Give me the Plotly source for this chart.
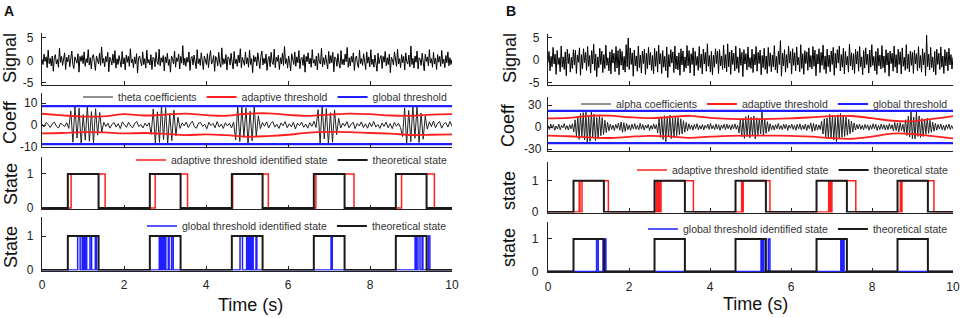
import numpy as np
import plotly.graph_objects as go

W, H = 964, 318
def px(x): return x / W
def py(y): return 1 - y / H

# ---------------- data ----------------
sig_A = [
 0.3,-0.9,1.4,-0.2,0.8,-1.6,2.3,-0.7,0.5,-1.2,1.0,-2.4,0.6,1.3,-0.8,0.2,-1.5,2.7,-0.4,0.9,
 -1.1,0.4,1.7,-2.0,0.7,-0.3,1.2,-1.4,0.5,2.1,-0.9,-1.8,0.8,0.3,-0.6,1.5,-2.6,0.9,-0.2,1.1,
 -0.7,1.9,-1.3,0.4,-0.5,2.4,-1.0,0.6,-1.9,0.8,1.3,-0.4,-2.2,1.0,0.2,-0.8,1.6,-1.1,3.0,-0.6,
 0.5,-1.4,0.9,-0.3,1.8,-2.5,0.7,0.1,-1.0,1.4,-0.6,2.2,-1.7,0.4,-0.9,1.1,-0.2,-1.5,2.0,-0.8,
 0.6,-2.1,1.2,-0.4,0.9,-1.3,2.6,-0.5,0.3,-1.6,0.8,-0.7,1.5,-2.8,0.6,1.0,-0.3,-1.2,1.9,-0.9,
 0.4,-1.7,2.3,-0.6,0.2,-1.0,1.3,-2.0,0.7,0.5,-1.4,1.8,-0.3,-0.9,2.5,-1.2,0.6,-0.4,1.1,-2.3,
 0.8,-0.5,1.6,-1.1,0.3,-2.6,1.0,0.4,-0.8,2.1,-1.5,0.6,-0.2,1.4,-1.9,0.9,-0.6,3.3,-1.0,0.5,
 -1.3,0.7,-0.4,1.9,-2.2,0.5,0.9,-1.0,1.2,-0.3,-1.8,2.4,-0.7,0.4,-1.1,1.7,-0.5,-2.0,1.0,0.2,
 -0.9,1.5,-1.6,0.6,2.2,-0.8,-0.3,1.1,-2.4,0.9,0.3,-1.2,1.8,-0.6,-1.5,2.8,-0.9,0.4,-0.7,1.3,
 -2.1,0.8,0.5,-1.0,1.6,-0.4,-1.9,2.0,-0.7,0.3,-1.3,1.2,-0.5,2.6,-1.6,0.7,-0.2,-1.1,1.9,-0.8,
 0.6,-1.5,2.3,-0.9,0.4,-2.7,1.1,-0.3,0.8,-1.2,1.7,-0.6,-1.8,0.9,2.1,-1.0,0.5,-0.7,1.4,-2.2,
 0.3,0.9,-1.4,1.8,-0.5,-0.9,2.5,-1.6,0.7,-0.2,1.2,-2.0,0.6,-0.8,1.6,-1.1,3.1,-0.7,0.4,-1.7,
 1.0,-0.4,-2.3,1.5,0.2,-0.9,1.9,-1.3,0.8,-0.5,2.2,-1.8,0.4,0.7,-1.1,1.3,-2.6,0.9,-0.3,1.7,
 -0.8,0.5,-1.5,2.4,-0.6,0.2,-1.2,1.0,-2.1,1.6,-0.4,-0.8,2.7,-1.4,0.6,-0.9,1.2,-0.2,-1.9,2.0,
 -0.7,1.1,-0.5,1.8,-2.5,0.8,0.4,-1.3,1.5,-0.6,-1.7,2.2,-0.9,0.3,-1.0,1.4,-0.3,2.9,-1.5,0.6,
 -1.2,0.9,-0.4,1.7,-2.2,0.5,1.0,-0.8,-1.6,2.3,-0.7,0.4,-1.1,1.5,-0.5,-2.0,1.9,-0.6,0.8,-1.4,
 2.4,-0.9,0.3,-1.5,1.2,-0.3,-2.4,1.6,-0.7,0.5,1.1,-1.8,0.9,-0.4,2.0,-1.2,0.6,-0.9,1.4,-2.7,
 0.7,0.2,-1.0,1.9,-0.6,-1.3,2.5,-0.8,0.4,-1.6,1.3,-0.5,0.9,-2.1,1.7,-0.3,-0.8,1.2,-1.4,3.2,
 -0.9,0.5,-1.7,1.0,-0.4,2.1,-1.9,0.6,0.3,-1.1,1.6,-0.7,-2.3,1.4,-0.2,0.8,-1.2,2.4,-0.6,0.4,
 -1.5,1.8,-0.8,0.5,-2.0,1.3,-0.4,0.9,-1.3,2.2,-0.7,0.3,-1.6,1.1,-0.5,1.9,-1.2,0.6,-0.9,0.2]

sig_B = [
 -0.6,1.9,-2.4,0.8,-1.5,2.8,-0.9,1.3,-3.2,2.1,-1.0,0.5,-2.6,3.1,-1.6,0.7,-2.1,1.8,-3.5,2.4,
 -0.8,1.4,-2.7,0.6,-1.9,2.3,-1.1,2.2,-3.0,1.1,-0.5,2.7,-3.4,1.2,-2.0,2.5,-0.6,1.7,-2.3,3.0,
 -1.4,1.0,-2.9,2.1,-0.9,3.5,-2.3,1.3,-3.7,0.7,-1.7,2.6,-1.0,2.0,-2.8,1.2,-1.9,3.3,-1.2,0.5,
 -2.4,1.8,-3.1,2.3,-0.7,1.5,-2.6,3.0,-1.8,2.1,-3.3,2.5,-1.2,1.9,-2.2,0.8,-2.7,3.4,-1.5,4.9,
 -2.1,2.7,-1.0,1.6,-3.6,2.2,-1.3,0.9,-2.5,3.1,-1.7,1.1,-2.9,2.0,-0.8,2.4,-3.2,1.5,-1.9,2.8,
 -1.1,1.7,-2.3,1.0,-3.1,2.6,-1.4,1.9,-2.7,3.3,-0.9,1.4,-3.0,2.1,-1.6,0.8,-2.4,2.9,-3.9,1.2,
 -1.5,2.3,-0.7,1.8,-2.8,3.1,-2.0,0.9,-2.2,1.6,-3.4,2.5,-1.1,2.0,-2.6,0.7,-1.8,3.2,-1.3,2.1,
 -2.9,1.4,-1.0,2.7,-3.5,1.9,-1.2,0.8,-2.3,3.0,-1.7,1.3,-3.1,2.4,-0.9,1.7,-2.5,3.6,-1.4,1.0,
 -2.7,1.9,-3.3,1.1,-1.6,2.5,-0.8,2.0,-3.0,2.3,-1.3,0.9,-2.1,3.3,-1.8,1.2,-2.6,3.6,-1.5,1.8,
 -3.2,2.2,-1.0,1.5,-2.4,3.1,-1.9,0.7,-2.8,2.6,-1.2,1.7,-3.7,2.3,-0.9,1.4,-2.2,2.9,-1.6,0.5,
 -1.9,2.4,-2.8,1.3,-1.1,3.0,-2.5,1.7,-0.8,2.2,-3.3,1.0,-1.7,2.6,-2.1,0.9,-3.0,2.8,-1.4,1.6,
 -2.6,1.1,-1.5,3.2,-2.2,0.8,-2.9,2.0,-1.0,4.3,-3.6,1.5,-1.3,2.3,-2.7,1.2,-1.8,3.1,-0.7,1.9,
 -3.1,2.5,-1.2,1.6,-2.4,2.9,-1.1,0.6,-2.6,3.4,-1.9,1.4,-3.2,2.1,-0.8,1.8,-2.3,2.7,-1.6,1.0,
 -2.0,3.0,-1.4,2.2,-3.5,1.3,-0.9,2.5,-2.8,1.7,-1.2,3.3,-2.1,0.9,-3.0,2.4,-1.5,1.1,-2.6,2.0,
 -1.0,2.8,-3.4,1.5,-1.8,2.3,-0.7,3.1,-2.4,1.2,-1.6,2.6,-3.1,1.9,-1.1,0.8,-2.7,3.5,-1.3,1.6,
 -2.2,1.4,-3.0,2.4,-0.9,1.9,-2.5,3.0,-1.5,0.7,-3.3,2.1,-1.8,2.7,-1.0,1.3,-2.9,2.2,-1.6,3.4,
 -1.2,0.8,-2.4,1.9,-3.2,2.6,-1.3,1.1,-2.0,3.2,-1.7,0.9,-2.8,2.3,-1.1,1.6,-3.6,2.0,-0.8,1.5,
 -2.5,3.1,-1.6,1.2,-2.9,2.4,-1.0,1.8,-3.1,2.7,-1.4,0.6,-2.3,3.4,-1.9,1.3,-2.6,2.0,-1.2,1.7,
 -3.0,2.2,-0.9,1.4,-2.4,3.0,-1.8,1.0,-2.7,2.5,-1.1,1.6,-3.5,5.5,-1.5,1.3,-2.2,2.8,-1.7,0.7,
 -2.6,1.9,-3.3,2.4,-1.0,1.5,-2.1,2.9,-1.6,0.9,-3.0,2.3,-1.3,1.8,-2.4,2.6,-1.1,1.2,-2.0,0.6]

coef_A = [
 0.5,-0.8,1.2,0.3,-1.1,0.6,1.4,-0.5,-1.3,0.9,0.2,-0.7,1.1,-1.5,
 6.5,-7.8,8.4,-5.9,7.7,-8.6,4.8,-6.9,8.9,-7.4,6.2,-8.1,7.5,-4.6,5.8,-3.2,
 1.3,-0.6,0.9,-1.4,0.4,1.2,-0.9,0.7,-1.6,1.5,0.2,-1.0,1.3,-0.4,-1.2,0.8,1.6,-0.7,0.3,-1.3,0.9,-0.5,1.1,
 -4.2,7.4,-8.3,6.1,-7.9,8.8,-6.6,8.0,-8.7,5.4,-7.1,6.8,-4.9,3.6,
 -1.5,1.0,-0.3,1.4,-1.1,0.6,1.8,-0.8,-1.4,0.9,1.2,-0.6,0.4,-1.7,1.3,-0.2,0.8,-1.2,1.6,-0.9,0.5,-1.5,1.1,-0.4,0.9,-1.3,1.4,
 -6.8,8.9,-7.5,8.2,-5.6,7.9,-8.8,6.4,-7.2,8.5,-5.1,4.3,
 -1.6,1.2,-0.5,1.5,-1.3,0.7,1.7,-0.9,0.4,-1.5,1.0,-0.3,1.6,-1.2,0.6,-0.8,1.3,-1.7,0.9,-0.2,1.4,-1.0,0.5,-1.4,1.1,-0.6,1.8,-1.1,
 7.1,-8.4,8.9,-6.3,7.6,-8.9,5.7,-7.8,6.9,-4.4,3.1,
 -1.3,0.9,-0.5,1.6,-1.2,0.4,1.3,-1.6,0.8,-0.4,1.5,-1.1,0.6,-1.4,1.2,-0.7,1.7,-0.9,0.3,-1.5,1.0,-0.6,1.4,-1.2,0.7,-1.6,1.3,-0.5,0.9,-1.1,
 -5.2,7.9,-8.5,6.7,-7.6,8.8,-6.0,8.3,-7.9,5.5,-6.4,4.1,
 -1.8,1.5,-0.7,1.9,-1.2,0.8,1.6,-1.4,0.5,1.2,-0.9,1.7,-0.6]

coef_B = [
 2.3,-3.6,4.1,-1.7,3.2,-4.4,1.4,-2.8,3.9,-3.8,2.2,-1.1,4.6,-3.2,1.9,-4.0,3.1,-2.5,4.4,
 -6.5,9.8,-12.4,14.1,-16.8,18.2,-13.5,19.6,-17.7,21.0,-22.3,15.6,-19.4,20.8,-14.9,17.3,-18.9,13.2,-16.1,15.4,-11.8,12.9,-10.2,9.1,-7.6,6.4,-5.2,
 4.1,-3.3,2.6,-4.9,3.5,-2.0,5.2,-4.4,6.8,-7.3,5.9,-6.1,4.8,-3.7,2.9,-4.5,3.8,-2.4,4.7,-3.1,2.2,-3.9,5.0,-2.8,3.4,-4.2,2.5,-1.6,3.6,-4.8,2.1,-3.0,4.3,-2.6,3.2,
 -7.9,11.4,-14.2,12.8,-16.9,15.3,-19.8,14.6,-13.1,16.2,-15.7,12.3,-14.5,13.8,-11.6,12.9,-10.4,11.2,-9.3,8.6,-7.1,6.2,-5.5,
 4.4,-3.1,2.7,-4.3,3.4,-2.2,4.6,-3.8,2.0,-2.9,3.5,-4.1,2.4,-1.7,3.8,-3.3,4.9,-2.6,2.1,-3.6,4.2,-2.8,3.1,-4.5,2.6,-2.0,3.7,-3.5,4.0,-2.3,2.8,-3.9,3.3,-2.5,4.3,-3.0,2.2,
 -8.2,10.7,-13.4,12.1,-15.6,14.2,-12.8,16.0,-14.7,13.3,-11.9,15.1,-16.3,12.6,-10.5,11.8,-9.4,20.4,-12.1,10.2,-8.7,7.3,-6.0,
 4.5,-3.6,2.4,-4.1,3.2,-2.5,4.8,-3.0,1.9,-3.7,4.0,-2.2,3.5,-4.6,2.7,-1.8,3.9,-3.3,2.2,-4.4,3.6,-2.7,4.3,-3.9,2.5,-3.1,4.1,-4.8,3.0,-2.4,5.6,-6.2,4.9,-5.1,3.6,-4.2,2.8,-3.4,
 7.8,-9.6,11.3,-13.7,12.4,-15.8,17.2,-14.1,15.8,-17.6,13.3,-19.8,16.7,-15.5,18.4,-14.0,16.1,-12.9,13.6,-11.2,10.4,-9.2,8.1,-6.9,5.6,
 -4.2,3.4,-2.8,4.0,-3.3,2.3,-3.9,3.6,-2.1,3.0,-4.4,2.6,-3.1,4.3,-2.4,3.7,-4.6,2.2,-3.5,4.1,-2.9,3.3,-4.0,2.8,-3.7,4.5,-2.6,3.2,-5.3,6.1,-4.8,5.4,-6.6,5.9,-4.7,3.8,
 -7.4,9.9,-11.6,14.8,-13.5,21.3,-15.9,13.7,-16.2,20.5,-12.8,15.1,-14.3,11.5,-13.0,10.6,-9.8,11.9,-8.6,9.1,-7.2,6.5,-5.8,4.9,
 -4.3,3.5,-2.7,4.2,-3.8,2.4,-4.6,3.1,-2.2,3.9,-3.4,2.0,-2.6]

thr_t = [0,0.5,1,1.5,2,2.5,3,3.5,4,4.5,5,5.5,6,6.5,7,7.5,8,8.5,9,9.5,10]
adapt_up_A = [5.2,4.5,3.9,4.0,5.0,4.4,4.8,5.3,4.6,4.3,5.2,5.4,4.7,4.2,4.8,5.3,5.0,4.4,4.3,4.8,5.0]
adapt_lo_A = [-3.8,-3.6,-3.2,-3.3,-3.8,-3.6,-4.0,-4.6,-4.2,-4.6,-5.3,-5.0,-4.4,-3.4,-3.1,-3.2,-3.6,-3.9,-4.5,-4.4,-4.2]
adapt_up_B = [11.8,12.5,15.3,15.5,13.3,12.0,13.5,15.3,12.5,11.2,10.8,11.0,11.8,13.2,14.8,15.0,12.0,8.5,7.8,11.0,14.8]
adapt_lo_B = [-11.8,-12.6,-14.0,-15.0,-13.4,-12.0,-12.8,-14.8,-13.2,-12.0,-11.8,-11.8,-12.0,-13.2,-15.0,-16.0,-13.0,-9.0,-9.5,-12.5,-15.5]
global_t = [0, 10]
global_A = 8.7
global_B = 22.0

theory_on  = [0.63, 2.63, 4.63, 6.63, 8.63]
theory_off = [1.38, 3.38, 5.38, 7.38, 9.38]
adaptA_on  = [0.71, 2.76, 4.65, 6.68, 8.77]
adaptA_off = [1.54, 3.55, 5.52, 7.61, 9.57]
globA_on  = [0.87,0.98,1.02,1.06,1.17,1.30, 2.86,2.90,2.95,2.99,3.08,3.16,
             4.83,4.99,5.03,5.08,5.12,5.22, 7.05, 9.10,9.17,9.27,9.42]
globA_off = [0.93,1.00,1.04,1.09,1.21,1.33, 2.88,2.93,2.97,3.02,3.10,3.20,
             4.89,5.01,5.06,5.10,5.15,5.24, 7.08, 9.13,9.22,9.29,9.46]
adaptB_on  = [0.77,0.84, 2.67,2.71,2.75,2.79, 4.78,4.82, 6.93,6.97,7.01, 8.70,8.74]
adaptB_off = [0.79,1.49, 2.69,2.73,2.77,3.59, 4.80,5.48, 6.95,6.99,7.60, 8.72,9.53]
globB_on  = [1.20,1.36,1.40, 5.26,5.30,5.44, 7.23,7.28]
globB_off = [1.24,1.38,1.43, 5.28,5.33,5.48, 7.25,7.31]

x_ticks = [0, 2, 4, 6, 8, 10]

# ---------------- helpers ----------------
def steps(on, off):
    t, v = [0], [0]
    for a, b in zip(on, off):
        t += [a, b]
        v += [1, 0]
    t.append(10); v.append(0)
    return t, v

FONT = "Liberation Sans, Arial, sans-serif"
BLACK = "#1a1a1a"
RED = "#ff1f1f"
BLUE = "#1f1fff"

fig = go.Figure()

panels = [
    ("sigA", 1, (42, 452), (33, 85), (-5.45, 6.1), [-5, 0, 5], 5),
    ("coefA", 2, (42, 452), (93, 147), (-10, 14.7), [-10, 0, 10], 1),
    ("stA1", 3, (42, 452), (157, 209), (-0.03, 1.5), [0, 1], 5),
    ("stA2", 4, (42, 452), (217, 270.5), (-0.015, 1.56), [0, 1], 5),
    ("sigB", 5, (548, 953), (34, 85), (-5.56, 5.78), [-5, 0, 5], 5),
    ("coefB", 6, (548, 953), (97, 151), (-32.7, 40.9), [-30, 0, 30], 3),
    ("stB1", 7, (548, 953), (162, 212.5), (-0.016, 1.6), [0, 1], 6),
    ("stB2", 8, (548, 953), (221.7, 272), (-0.015, 1.53), [0, 1], 6),
]
ax = {}
for key, i, xd, yd, yr, tv, so in panels:
    xs = "x" if i == 1 else f"x{i}"
    ys = "y" if i == 1 else f"y{i}"
    ax[key] = (xs, ys)
    show_x = key in ("stA2", "stB2")
    fig.layout[f"xaxis{'' if i == 1 else i}"] = dict(
        domain=[px(xd[0]), px(xd[1])], anchor=ys, range=[0, 10],
        showline=True, linecolor="#222", linewidth=1.3, mirror=False,
        ticks="inside", ticklen=4, tickcolor="#222", tickwidth=1,
        tickvals=x_ticks, showticklabels=show_x, showgrid=False, zeroline=False,
        tickfont=dict(size=12, color="#222", family=FONT), automargin=False,
        ticklabelstandoff=3,
    )
    fig.layout[f"yaxis{'' if i == 1 else i}"] = dict(
        domain=[py(yd[1]), py(yd[0])], anchor=xs, range=list(yr),
        showline=True, linecolor="#222", linewidth=1.3,
        ticks="inside", ticklen=4, tickcolor="#222", tickwidth=1,
        tickvals=tv, ticktext=[str(v) for v in tv], showgrid=False, zeroline=False,
        tickfont=dict(size=12, color="#222", family=FONT), automargin=False,
        ticklabelstandoff=so,
    )

def tt(arr):
    return np.linspace(0, 10, len(arr))

for key, arr in (("sigA", sig_A), ("sigB", sig_B)):
    xs, ys = ax[key]
    fig.add_trace(go.Scatter(x=tt(arr), y=arr, mode="lines", xaxis=xs, yaxis=ys,
                             line=dict(color="#000", width=1.0), showlegend=False, hoverinfo="skip"))

for key, arr, name, up, lo, g, leg in (
    ("coefA", coef_A, "theta coefficients", adapt_up_A, adapt_lo_A, global_A, "legend"),
    ("coefB", coef_B, "alpha coefficients", adapt_up_B, adapt_lo_B, global_B, "legend4"),
):
    xs, ys = ax[key]
    fig.add_trace(go.Scatter(x=tt(arr), y=arr, mode="lines", xaxis=xs, yaxis=ys, name=name,
                             line=dict(color="#222", width=1.0), legend=leg))
    fig.add_trace(go.Scatter(x=thr_t, y=up, mode="lines", xaxis=xs, yaxis=ys, name="adaptive threshold",
                             line=dict(color=RED, width=1.8, shape="spline"), legend=leg,
                             legendgroup=key + "ad"))
    fig.add_trace(go.Scatter(x=thr_t, y=lo, mode="lines", xaxis=xs, yaxis=ys, name="adaptive threshold",
                             line=dict(color=RED, width=1.8, shape="spline"), legend=leg,
                             legendgroup=key + "ad", showlegend=False))
    fig.add_trace(go.Scatter(x=global_t, y=[g, g], mode="lines", xaxis=xs, yaxis=ys, name="global threshold",
                             line=dict(color=BLUE, width=2.2), legend=leg, legendgroup=key + "gl"))
    fig.add_trace(go.Scatter(x=global_t, y=[-g, -g], mode="lines", xaxis=xs, yaxis=ys, name="global threshold",
                             line=dict(color=BLUE, width=2.2), legend=leg, legendgroup=key + "gl",
                             showlegend=False))

th_t, th_v = steps(theory_on, theory_off)
for key, on, off, name, col, leg in (
    ("stA1", adaptA_on, adaptA_off, "adaptive threshold identified state", RED, "legend2"),
    ("stA2", globA_on, globA_off, "global threshold identified state", BLUE, "legend3"),
    ("stB1", adaptB_on, adaptB_off, "adaptive threshold identified state", RED, "legend5"),
    ("stB2", globB_on, globB_off, "global threshold identified state", BLUE, "legend6"),
):
    xs, ys = ax[key]
    st, sv = steps(on, off)
    fig.add_trace(go.Scatter(x=st, y=sv, mode="lines", xaxis=xs, yaxis=ys, name=name,
                             line=dict(color=col, width=1.5, shape="hv"), legend=leg))
    fig.add_trace(go.Scatter(x=th_t, y=th_v, mode="lines", xaxis=xs, yaxis=ys, name="theoretical state",
                             line=dict(color=BLACK, width=2, shape="hv"), legend=leg))

def legend_cfg(xr, yc):
    return dict(orientation="h", x=px(xr), xanchor="right", y=py(yc), yanchor="middle",
                bgcolor="rgba(0,0,0,0)", borderwidth=0, itemwidth=30,
                font=dict(size=10.5, color="#333", family=FONT), traceorder="normal")

fig.update_layout(
    legend=legend_cfg(452, 97),
    legend2=legend_cfg(452, 160),
    legend3=legend_cfg(452, 226),
    legend4=legend_cfg(953, 104),
    legend5=legend_cfg(953, 170),
    legend6=legend_cfg(953, 229),
)

annots = [
    dict(text="<b>A</b>", x=px(9), y=py(11), size=14, angle=0),
    dict(text="<b>B</b>", x=px(511), y=py(11), size=14, angle=0),
    dict(text="Signal", x=px(10), y=py(58), size=18, angle=-90),
    dict(text="Coeff", x=px(10), y=py(122), size=18, angle=-90),
    dict(text="State", x=px(11), y=py(184), size=18, angle=-90),
    dict(text="State", x=px(11), y=py(247), size=18, angle=-90),
    dict(text="Signal", x=px(510), y=py(58), size=18, angle=-90),
    dict(text="Coeff", x=px(508), y=py(125), size=18, angle=-90),
    dict(text="state", x=px(509), y=py(191), size=18, angle=-90),
    dict(text="state", x=px(509), y=py(248), size=18, angle=-90),
    dict(text="Time (s)", x=px(250), y=py(305), size=18, angle=0),
    dict(text="Time (s)", x=px(755), y=py(304), size=18, angle=0),
]
fig.update_layout(annotations=[
    dict(text=a["text"], x=a["x"], y=a["y"], xref="paper", yref="paper", showarrow=False,
         textangle=a["angle"], xanchor="center", yanchor="middle",
         font=dict(size=a["size"], color="#111", family=FONT))
    for a in annots
])

fig.update_layout(
    width=W, height=H, margin=dict(l=0, r=0, t=0, b=0),
    paper_bgcolor="white", plot_bgcolor="white", template="none",
    font=dict(family=FONT, color="#222"),
)

fig.write_html("out.html", config={"displayModeBar": False},
               post_script="document.body.style.margin='0px';document.body.style.overflow='hidden';")
